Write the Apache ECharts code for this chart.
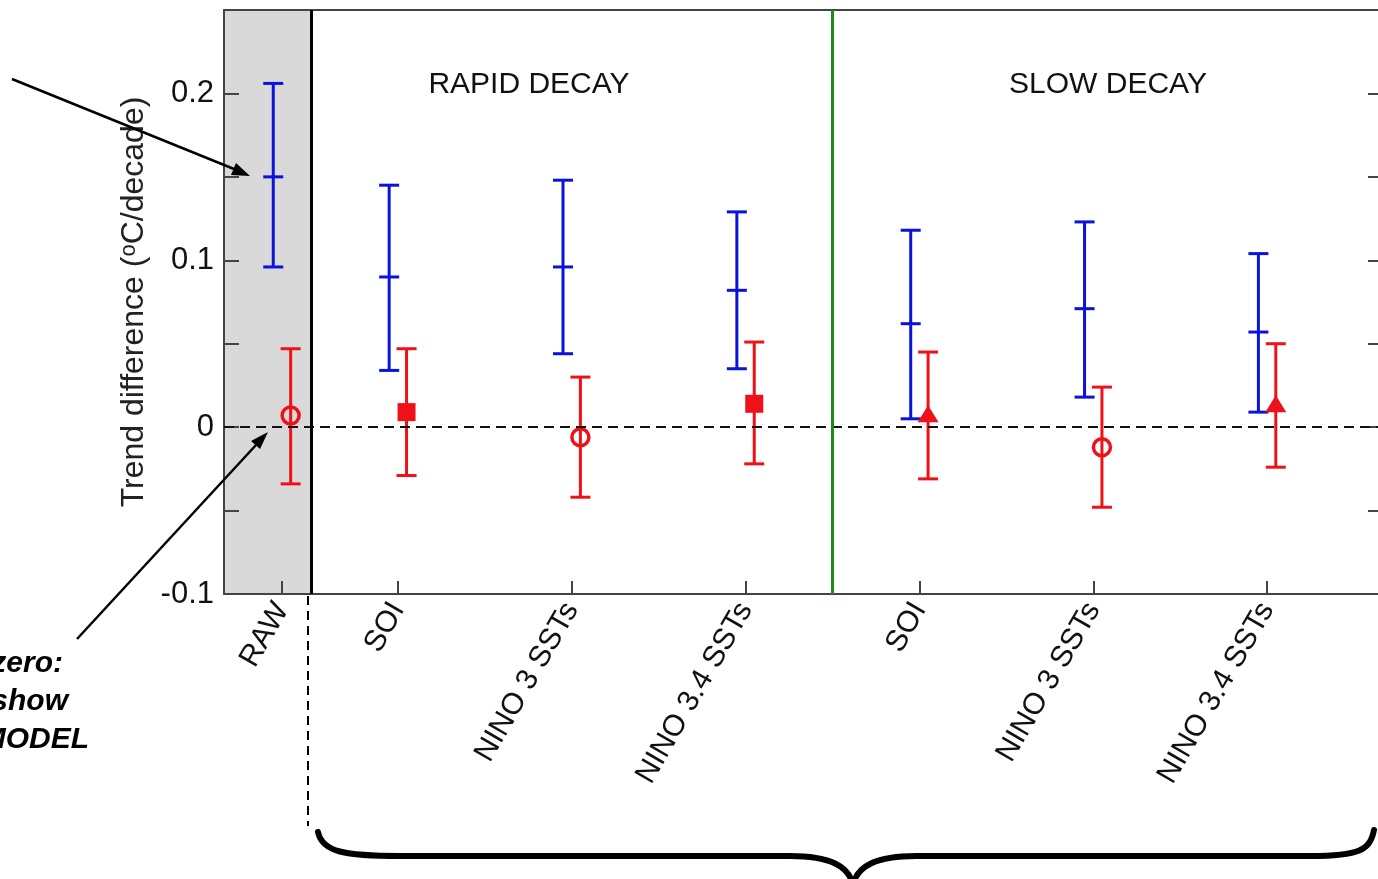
<!DOCTYPE html>
<html>
<head>
<meta charset="utf-8">
<script src="https://cdn.jsdelivr.net/npm/echarts@6/dist/echarts.min.js"></script>
<style>
  html, body { margin: 0; padding: 0; background: #fff; }
  #chart { width: 1378px; height: 879px; }
</style>
</head>
<body>
<div id="chart"></div>
<script>
// category positions on the x axis (RAW sits in the grey strip)
var catPos = [1 / 3, 1, 2, 3, 4, 5, 6];
var catNames = ['RAW', 'SOI', 'NINO 3 SSTs', 'NINO 3.4 SSTs', 'SOI', 'NINO 3 SSTs', 'NINO 3.4 SSTs'];

// blue bars: low / centre / high
var blueLow  = [0.096, 0.034, 0.044, 0.035, 0.005, 0.018, 0.009];
var blueMid  = [0.150, 0.090, 0.096, 0.082, 0.062, 0.071, 0.057];
var blueHigh = [0.206, 0.145, 0.148, 0.129, 0.118, 0.123, 0.104];

// red bars: low / centre / high
var redLow  = [-0.034, -0.029, -0.042, -0.022, -0.031, -0.048, -0.024];
var redMid  = [0.007, 0.009, -0.006, 0.014, 0.008, -0.012, 0.014];
var redHigh = [0.047, 0.047, 0.030, 0.051, 0.045, 0.024, 0.050];

// marker shape for each red point
var redMarker = ['hollow', 'rect', 'hollow', 'rect', 'triangle', 'hollow', 'triangle'];

var BLUE = '#0b12d9';
var RED = '#ee1117';
var FONT = '"Liberation Sans", Arial, Helvetica, sans-serif';

function errData(low, mid, high, shift) {
    var out = [];
    for (var i = 0; i < catPos.length; i++) {
        out.push([catPos[i] + shift, low[i], mid[i], high[i]]);
    }
    return out;
}

function errRenderer(color, midTick) {
    return function (params, api) {
        var x = api.value(0);
        var pLo = api.coord([x, api.value(1)]);
        var pMid = api.coord([x, api.value(2)]);
        var pHi = api.coord([x, api.value(3)]);
        var h = 10;
        var st = {stroke: color, lineWidth: 3};
        var kids = [
            {type: 'line', shape: {x1: pLo[0], y1: pLo[1], x2: pHi[0], y2: pHi[1]}, style: st},
            {type: 'line', shape: {x1: pLo[0] - h, y1: pLo[1], x2: pLo[0] + h, y2: pLo[1]}, style: st},
            {type: 'line', shape: {x1: pHi[0] - h, y1: pHi[1], x2: pHi[0] + h, y2: pHi[1]}, style: st}
        ];
        if (midTick) {
            kids.push({type: 'line', shape: {x1: pMid[0] - h, y1: pMid[1], x2: pMid[0] + h, y2: pMid[1]}, style: st});
        }
        return {type: 'group', children: kids};
    };
}

var markerData = [];
for (var i = 0; i < catPos.length; i++) {
    var m = redMarker[i];
    var item = {value: [catPos[i] + 0.05, redMid[i]]};
    if (m == 'hollow') {
        item.symbol = 'circle';
        item.symbolSize = 17;
        item.itemStyle = {color: 'rgba(0,0,0,0)', borderColor: RED, borderWidth: 3.5, opacity: 1};
    } else if (m == 'rect') {
        item.symbol = 'rect';
        item.symbolSize = 18;
        item.itemStyle = {color: RED, opacity: 1};
    } else {
        item.symbol = 'triangle';
        item.symbolSize = [21, 17];
        item.itemStyle = {color: RED, opacity: 1};
    }
    markerData.push(item);
}

var braceStyle = {stroke: '#000', lineWidth: 6, fill: null, lineCap: 'round'};
var noteStyle = {fontSize: 30, fontWeight: 'bold', fontStyle: 'italic', fontFamily: FONT, fill: '#000', align: 'right', verticalAlign: 'middle'};
var axisColor = '#444';

var chart = echarts.init(document.getElementById('chart'));
chart.setOption({
    animation: false,
    backgroundColor: '#fff',
    grid: {left: 224, top: 10, width: 1159, height: 584, show: false, outerBoundsMode: 'none', containLabel: false},
    xAxis: [{
        type: 'value', min: 0, max: 20 / 3, z: 2,
        splitLine: {show: false},
        axisLine: {onZero: false, lineStyle: {color: axisColor, width: 2}},
        axisTick: {inside: true, length: 13, customValues: catPos, lineStyle: {color: axisColor, width: 2}},
        axisLabel: {
            customValues: catPos, rotate: 60, margin: 11,
            fontSize: 30, color: '#111', fontFamily: FONT,
            formatter: function (v) {
                for (var k = 0; k < catPos.length; k++) {
                    if (Math.abs(catPos[k] - v) < 1e-6) return catNames[k];
                }
                return '';
            }
        }
    }, {
        type: 'value', min: 0, max: 20 / 3, position: 'top', z: 2,
        splitLine: {show: false},
        axisLine: {onZero: false, lineStyle: {color: axisColor, width: 2}},
        axisTick: {show: false},
        axisLabel: {show: false}
    }],
    yAxis: [{
        type: 'value', min: -0.1, max: 0.25, interval: 0.05, z: 2,
        splitLine: {show: false},
        axisLine: {show: true, onZero: false, lineStyle: {color: axisColor, width: 2}},
        axisTick: {inside: true, length: 15, lineStyle: {color: axisColor, width: 2}},
        axisLabel: {
            fontSize: 31, color: '#111', fontFamily: FONT, margin: 10,
            formatter: function (v) {
                var t = v * 10;
                if (Math.abs(t - Math.round(t)) < 1e-6) return String(+v.toFixed(1));
                return '';
            }
        },
        name: 'Trend difference ({sup|o}C/decade)',
        nameLocation: 'middle', nameRotate: 90, nameGap: 71,
        nameTextStyle: {
            fontSize: 32, color: '#222', fontFamily: FONT,
            rich: {sup: {fontSize: 22, fontFamily: FONT, color: '#222', verticalAlign: 'top', lineHeight: 32}}
        }
    }, {
        type: 'value', min: -0.1, max: 0.25, interval: 0.05, position: 'right', z: 2,
        splitLine: {show: false},
        axisLine: {show: true, onZero: false, lineStyle: {color: axisColor, width: 2}},
        axisTick: {inside: true, length: 15, lineStyle: {color: axisColor, width: 2}},
        axisLabel: {show: false}
    }],
    series: [{
        name: 'frame',
        type: 'line',
        z: 1,
        data: [],
        markArea: {
            silent: true,
            itemStyle: {color: '#d9d9d9'},
            data: [[{xAxis: 0}, {xAxis: 0.5}]]
        },
        markLine: {
            silent: true,
            symbol: 'none',
            label: {show: false},
            data: [
                {yAxis: 0, lineStyle: {color: '#111', width: 2, type: [10, 6]}},
                {xAxis: 0.5, lineStyle: {color: '#000', width: 3, type: 'solid'}},
                {xAxis: 3.5, lineStyle: {color: '#1d8a1d', width: 3, type: 'solid'}}
            ]
        }
    }, {
        name: 'blue',
        type: 'custom',
        z: 3,
        renderItem: errRenderer(BLUE, true),
        encode: {x: 0, y: [1, 2, 3]},
        data: errData(blueLow, blueMid, blueHigh, -0.05)
    }, {
        name: 'red',
        type: 'custom',
        z: 3,
        renderItem: errRenderer(RED, false),
        encode: {x: 0, y: [1, 2, 3]},
        data: errData(redLow, redMid, redHigh, 0.05)
    }, {
        name: 'redMarkers',
        type: 'scatter',
        z: 4,
        data: markerData
    }],
    graphic: [
        {type: 'text', z: 10, x: 529, y: 85, style: {text: 'RAPID DECAY', fontSize: 30, fontFamily: FONT, fill: '#111', align: 'center', verticalAlign: 'middle'}},
        {type: 'text', z: 10, x: 1108, y: 85, style: {text: 'SLOW DECAY', fontSize: 30, fontFamily: FONT, fill: '#111', align: 'center', verticalAlign: 'middle'}},
        // arrows and note on the left
        {type: 'line', z: 10, shape: {x1: 12, y1: 79, x2: 234, y2: 169}, style: {stroke: '#000', lineWidth: 2.5}},
        {type: 'polygon', z: 10, shape: {points: [[250, 176], [231, 175], [236, 163]]}, style: {fill: '#000'}},
        {type: 'line', z: 10, shape: {x1: 77, y1: 639, x2: 256, y2: 445}, style: {stroke: '#000', lineWidth: 2.5}},
        {type: 'polygon', z: 10, shape: {points: [[268, 432], [260, 449], [251, 441]]}, style: {fill: '#000'}},
        {type: 'text', z: 10, x: 63, y: 664, style: Object.assign({text: 'zero:'}, noteStyle)},
        {type: 'text', z: 10, x: 68, y: 702, style: Object.assign({text: 'show'}, noteStyle)},
        {type: 'text', z: 10, x: 89, y: 740, style: Object.assign({text: 'MODEL'}, noteStyle)},
        // dashed drop line and bottom brace
        {type: 'line', z: 10, shape: {x1: 308, y1: 596, x2: 308, y2: 826}, style: {stroke: '#000', lineWidth: 2, lineDash: [9, 6]}},
        {type: 'bezierCurve', z: 10, shape: {x1: 318, y1: 832, cpx1: 322, cpy1: 852, cpx2: 345, cpy2: 856, x2: 400, y2: 856}, style: braceStyle},
        {type: 'line', z: 10, shape: {x1: 400, y1: 856, x2: 790, y2: 856}, style: braceStyle},
        {type: 'bezierCurve', z: 10, shape: {x1: 790, y1: 856, cpx1: 830, cpy1: 856, cpx2: 848, cpy2: 866, x2: 853, y2: 884}, style: braceStyle},
        {type: 'bezierCurve', z: 10, shape: {x1: 853, y1: 884, cpx1: 858, cpy1: 866, cpx2: 876, cpy2: 856, x2: 916, y2: 856}, style: braceStyle},
        {type: 'line', z: 10, shape: {x1: 916, y1: 856, x2: 1310, y2: 856}, style: braceStyle},
        {type: 'bezierCurve', z: 10, shape: {x1: 1310, y1: 856, cpx1: 1360, cpy1: 856, cpx2: 1370, cpy2: 850, x2: 1374, y2: 830}, style: braceStyle}
    ]
});
</script>
</body>
</html>
